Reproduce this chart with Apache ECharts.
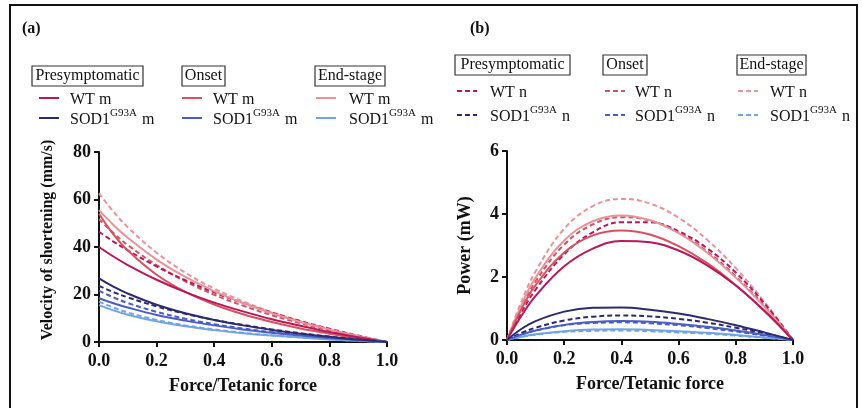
<!DOCTYPE html>
<html>
<head>
<meta charset="utf-8">
<script src="https://cdn.jsdelivr.net/npm/echarts@6/dist/echarts.min.js"></script>
<style>
html,body{margin:0;padding:0;background:#fff;}
#chart{width:862px;height:408px;}
</style>
</head>
<body>
<div id="chart"></div>
<script>
// ---- data ----
const forceX = [0, 0.05, 0.1, 0.2, 0.3, 0.4, 0.5, 0.6, 0.7, 0.8, 0.9, 1.0];
const xTicks = ['0.0', '0.2', '0.4', '0.6', '0.8', '1.0'];
const velTicks = [0, 20, 40, 60, 80];
const powTicks = [0, 2, 4, 6];

// velocity (mm/s) – solid "m"
const vPreWTm  = [40, 36.0, 32.4, 26.2, 21.0, 16.6, 12.9, 9.6, 6.8, 4.2, 2.0, 0];
const vOnsWTm  = [54, 45.3, 38.5, 28.3, 21.1, 15.8, 11.7, 8.4, 5.7, 3.5, 1.6, 0];
const vEndWTm  = [55.5, 49.3, 43.9, 34.7, 27.4, 21.4, 16.4, 12.1, 8.4, 5.3, 2.5, 0];
const vPreSODm = [26.8, 23.3, 20.4, 15.7, 12.1, 9.3, 7.0, 5.1, 3.5, 2.2, 1.0, 0];
const vOnsSODm = [18.4, 16.3, 14.5, 11.4, 9.0, 7.0, 5.3, 3.9, 2.7, 1.7, 0.8, 0];
const vEndSODm = [15.5, 13.3, 11.5, 8.7, 6.6, 5.0, 3.7, 2.7, 1.9, 1.1, 0.5, 0];
// velocity – dashed "n"
const vPreWTn  = [46.4, 42.3, 38.6, 31.8, 26.0, 20.9, 16.4, 12.4, 8.8, 5.6, 2.7, 0];
const vOnsWTn  = [51.7, 45.9, 40.8, 32.4, 25.5, 19.9, 15.3, 11.3, 7.9, 4.9, 2.3, 0];
const vEndWTn  = [62.6, 54.9, 48.3, 37.6, 29.2, 22.5, 17.1, 12.5, 8.7, 5.4, 2.5, 0];
const vPreSODn = [23.6, 21.0, 18.8, 15.0, 11.9, 9.3, 7.2, 5.3, 3.7, 2.3, 1.1, 0];
const vOnsSODn = [21.6, 18.8, 16.4, 12.7, 9.8, 7.5, 5.7, 4.1, 2.85, 1.76, 0.8, 0];
const vEndSODn = [17.0, 14.5, 12.4, 9.3, 7.0, 5.3, 3.9, 2.8, 1.9, 1.2, 0.55, 0];

// power (mW) – solid "m"
const pPreWTm  = [0, 0.76, 1.40, 2.34, 2.90, 3.14, 3.10, 2.84, 2.37, 1.73, 0.93, 0];
const pOnsWTm  = [0, 0.97, 1.74, 2.78, 3.32, 3.48, 3.35, 2.98, 2.44, 1.74, 0.92, 0];
const pEndWTm  = [0, 1.10, 1.98, 3.16, 3.77, 3.95, 3.80, 3.39, 2.77, 1.98, 1.05, 0];
const pPreSODm = [0, 0.35, 0.60, 0.90, 1.02, 1.03, 0.96, 0.84, 0.67, 0.47, 0.24, 0];
const pOnsSODm = [0, 0.17, 0.30, 0.48, 0.57, 0.60, 0.58, 0.51, 0.42, 0.30, 0.16, 0];
const pEndSODm = [0, 0.10, 0.18, 0.28, 0.33, 0.34, 0.32, 0.28, 0.23, 0.16, 0.08, 0];
// power – dashed "n"
const pPreWTn  = [0, 0.87, 1.60, 2.72, 3.42, 3.74, 3.74, 3.45, 2.91, 2.14, 1.16, 0];
const pOnsWTn  = [0, 1.03, 1.86, 3.03, 3.67, 3.90, 3.79, 3.41, 2.81, 2.02, 1.08, 0];
const pEndWTn  = [0, 1.21, 2.18, 3.53, 4.25, 4.48, 4.33, 3.88, 3.18, 2.28, 1.21, 0];
const pPreSODn = [0, 0.22, 0.39, 0.62, 0.74, 0.78, 0.75, 0.67, 0.55, 0.39, 0.21, 0];
const pOnsSODn = [0, 0.17, 0.30, 0.47, 0.54, 0.56, 0.53, 0.47, 0.38, 0.27, 0.14, 0];
const pEndSODn = [0, 0.10, 0.17, 0.26, 0.29, 0.30, 0.28, 0.24, 0.20, 0.14, 0.07, 0];

const stages = ['Presymptomatic', 'Onset', 'End-stage'];

// ---- styling ----
const C = {
  preWT: '#b8185a', onsWT: '#d9505f', endWT: '#e8939c',
  preSOD: '#2c2a6c', onsSOD: '#4a5cc6', endSOD: '#70a4e2'
};
const SERIF = '"Liberation Serif","DejaVu Serif",serif';
const DASH = [5, 3];

function pairs(ys) { return forceX.map((x, i) => [x, ys[i]]); }
function line(name, ys, color, dashed, idx) {
  return {
    type: 'line', name: name, xAxisIndex: idx, yAxisIndex: idx,
    data: pairs(ys), smooth: 0.4, symbol: 'none', silent: true,
    lineStyle: { color: color, width: 2, type: dashed ? DASH : 'solid' }
  };
}

const series = [
  // panel a
  line('v-endWTn', vEndWTn, C.endWT, true, 0),
  line('v-onsWTn', vOnsWTn, C.onsWT, true, 0),
  line('v-preWTn', vPreWTn, C.preWT, true, 0),
  line('v-endWTm', vEndWTm, C.endWT, false, 0),
  line('v-onsWTm', vOnsWTm, C.onsWT, false, 0),
  line('v-preWTm', vPreWTm, C.preWT, false, 0),
  line('v-endSODn', vEndSODn, C.endSOD, true, 0),
  line('v-onsSODn', vOnsSODn, C.onsSOD, true, 0),
  line('v-preSODn', vPreSODn, C.preSOD, true, 0),
  line('v-endSODm', vEndSODm, C.endSOD, false, 0),
  line('v-onsSODm', vOnsSODm, C.onsSOD, false, 0),
  line('v-preSODm', vPreSODm, C.preSOD, false, 0),
  // panel b
  line('p-endWTn', pEndWTn, C.endWT, true, 1),
  line('p-onsWTn', pOnsWTn, C.onsWT, true, 1),
  line('p-preWTn', pPreWTn, C.preWT, true, 1),
  line('p-endWTm', pEndWTm, C.endWT, false, 1),
  line('p-onsWTm', pOnsWTm, C.onsWT, false, 1),
  line('p-preWTm', pPreWTm, C.preWT, false, 1),
  line('p-endSODn', pEndSODn, C.endSOD, true, 1),
  line('p-onsSODn', pOnsSODn, C.onsSOD, true, 1),
  line('p-preSODn', pPreSODn, C.preSOD, true, 1),
  line('p-endSODm', pEndSODm, C.endSOD, false, 1),
  line('p-onsSODm', pOnsSODm, C.onsSOD, false, 1),
  line('p-preSODm', pPreSODm, C.preSOD, false, 1)
];

const axisCommon = {
  axisLine: { show: true, onZero: false, lineStyle: { color: '#111', width: 2 } },
  axisTick: { show: true, inside: false, length: 5, lineStyle: { color: '#111', width: 2 } },
  splitLine: { show: false },
  axisLabel: { color: '#111', fontFamily: SERIF, fontWeight: 'bold', fontSize: 18, margin: 8 },
  nameTextStyle: { color: '#111', fontFamily: SERIF, fontWeight: 'bold', fontSize: 18 }
};

function xAx(idx) {
  return Object.assign({}, axisCommon, {
    type: 'value', gridIndex: idx, min: 0, max: 1, interval: 0.2,
    name: 'Force/Tetanic force', nameLocation: 'middle', nameGap: 35,
    axisLabel: Object.assign({}, axisCommon.axisLabel, { margin: 10,
      formatter: v => { const s = v.toFixed(1); return xTicks.indexOf(s) >= 0 ? s : ''; }
    })
  });
}
function yAx(idx, max, interval, name, gap, ticks, nameStyle) {
  return Object.assign({}, axisCommon, {
    type: 'value', gridIndex: idx, min: 0, max: max, interval: interval,
    name: name, nameLocation: 'middle', nameGap: gap,
    nameTextStyle: Object.assign({}, axisCommon.nameTextStyle, nameStyle || {}),
    axisLabel: Object.assign({}, axisCommon.axisLabel, {
      formatter: v => ticks.indexOf(v) >= 0 ? String(v) : ''
    })
  });
}

// ---- legend graphics ----
const graphics = [];
graphics.push({ type: 'rect', shape: { x: 10, y: 5, width: 847, height: 410 },
  style: { fill: 'none', stroke: '#111', lineWidth: 2 }, silent: true });
graphics.push({ type: 'text', left: 22, top: 21,
  style: { text: '(a)', font: 'bold 16px ' + SERIF, fill: '#111' } });
graphics.push({ type: 'text', left: 470, top: 21,
  style: { text: '(b)', font: 'bold 16px ' + SERIF, fill: '#111' } });

function legendBlock(title, bx, by, bw, lx, tx, rowWT, rowSOD, cWT, cSOD, suffix, dashed) {
  graphics.push({ type: 'rect', shape: { x: bx, y: by, width: bw, height: 20 },
    style: { fill: '#fff', stroke: '#333', lineWidth: 1.2 } });
  graphics.push({ type: 'text', x: bx + bw / 2, y: by + 10,
    style: { text: title, font: '16px ' + SERIF, fill: '#111', textAlign: 'center', textVerticalAlign: 'middle' } });
  [[rowWT, cWT, '{n|WT ' + suffix + '}'], [rowSOD, cSOD, '{n|SOD1}{s|G93A}{n| ' + suffix + '}']].forEach(r => {
    graphics.push({ type: 'line', shape: { x1: lx, y1: r[0], x2: lx + 20, y2: r[0] },
      style: { stroke: r[1], lineWidth: 2, lineDash: dashed ? DASH : null } });
    graphics.push({ type: 'text', x: tx, y: r[0],
      style: { text: r[2], textVerticalAlign: 'middle', fill: '#111',
        rich: {
          n: { fontFamily: SERIF, fontSize: 16, lineHeight: 20, verticalAlign: 'bottom', fill: '#111' },
          s: { fontFamily: SERIF, fontSize: 11, lineHeight: 20, verticalAlign: 'top', fill: '#111', padding: [0, 1, 8, 0] }
        } } });
  });
}
// panel a legends (solid)
legendBlock(stages[0], 32, 66, 111, 39, 70, 98, 118, C.preWT, C.preSOD, 'm', false);
legendBlock(stages[1], 182, 66, 43, 182, 213, 98, 118, C.onsWT, C.onsSOD, 'm', false);
legendBlock(stages[2], 315, 66, 70, 316, 349, 98, 118, C.endWT, C.endSOD, 'm', false);
// panel b legends (dashed)
legendBlock(stages[0], 455, 55, 115, 457, 490, 91, 115, C.preWT, C.preSOD, 'n', true);
legendBlock(stages[1], 603, 55, 44, 605, 635, 91, 115, C.onsWT, C.onsSOD, 'n', true);
legendBlock(stages[2], 737, 55, 69, 738, 770, 91, 115, C.endWT, C.endSOD, 'n', true);

const option = {
  animation: false,
  backgroundColor: '#fff',
  grid: [
    { left: 99, top: 152, width: 288, height: 190, containLabel: false },
    { left: 507, top: 151, width: 286, height: 189, containLabel: false }
  ],
  xAxis: [xAx(0), xAx(1)],
  yAxis: [
    yAx(0, 80, 20, 'Velocity of shortening (mm/s)', 43, velTicks, { fontSize: 16, padding: [0, 0, 0, 14] }),
    yAx(1, 6, 2, 'Power (mW)', 33, powTicks)
  ],
  graphic: graphics,
  series: series
};

const chart = echarts.init(document.getElementById('chart'), null, { renderer: 'canvas' });
chart.setOption(option);
</script>
</body>
</html>
